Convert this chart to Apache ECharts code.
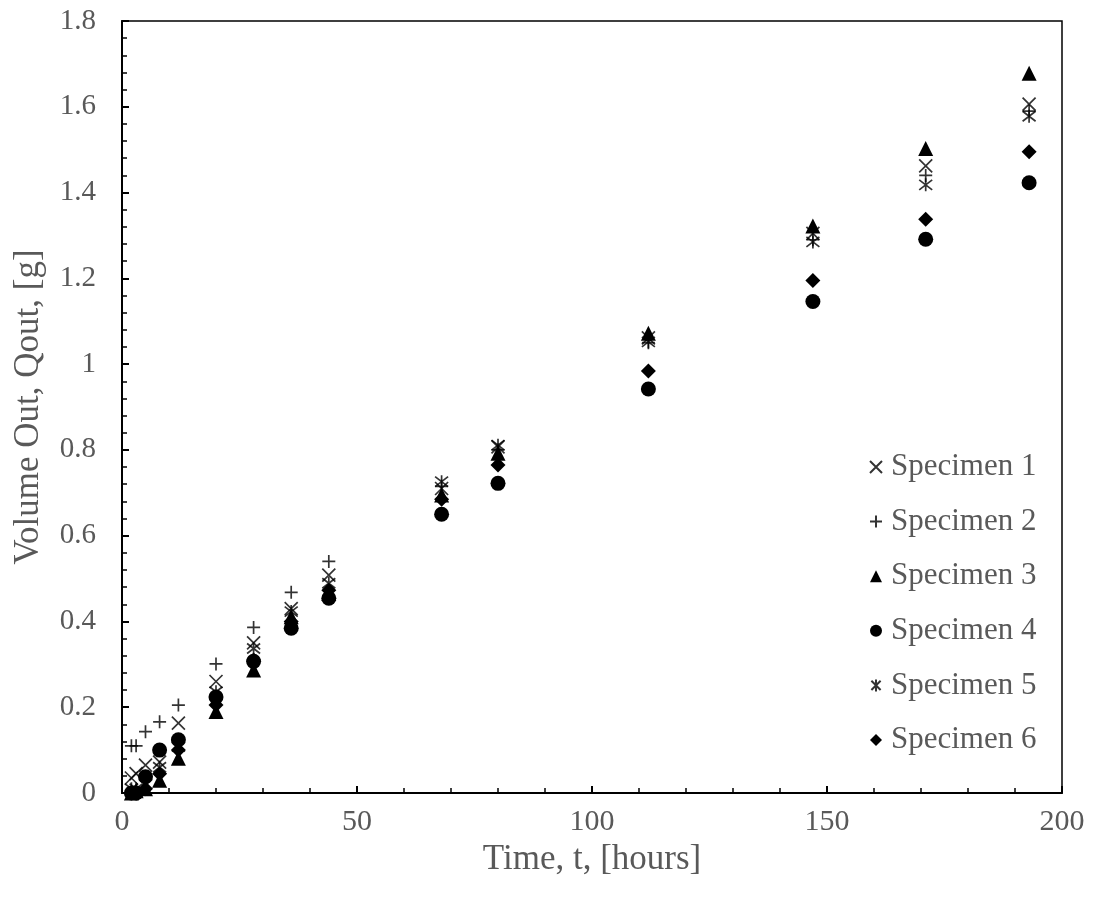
<!DOCTYPE html>
<html>
<head>
<meta charset="utf-8">
<script src="https://cdn.jsdelivr.net/npm/echarts@6/dist/echarts.min.js"></script>
<style>html,body{margin:0;padding:0;background:#fff;}#c{width:1094px;height:897px;}</style>
</head>
<body>
<div id="c"></div>
<script>
const times = [2, 3, 5, 8, 12, 20, 28, 36, 44, 68, 80, 112, 147, 171, 193];
const specimen1 = [0.035, 0.045, 0.065, 0.072, 0.163, 0.26, 0.35, 0.43, 0.508, 0.71, 0.807, 1.061, 1.305, 1.462, 1.606];
const specimen2 = [0.11, 0.11, 0.143, 0.166, 0.205, 0.301, 0.386, 0.468, 0.54, 0.715, 0.80, 1.05, 1.29, 1.44, 1.59];
const specimen3 = [0.0, 0.005, 0.01, 0.03, 0.081, 0.19, 0.287, 0.411, 0.465, 0.695, 0.792, 1.072, 1.322, 1.503, 1.678];
const specimen4 = [0.0, 0.0, 0.038, 0.10, 0.124, 0.224, 0.307, 0.384, 0.454, 0.65, 0.722, 0.942, 1.146, 1.291, 1.423];
const specimen5 = [0.01, 0.01, 0.02, 0.06, 0.108, 0.236, 0.337, 0.423, 0.489, 0.726, 0.811, 1.052, 1.285, 1.418, 1.578];
const specimen6 = [0.0, 0.0, 0.01, 0.045, 0.10, 0.205, 0.31, 0.40, 0.473, 0.685, 0.765, 0.984, 1.195, 1.338, 1.495];
const seriesNames = ['Specimen 1', 'Specimen 2', 'Specimen 3', 'Specimen 4', 'Specimen 5', 'Specimen 6'];
const seriesValues = [specimen1, specimen2, specimen3, specimen4, specimen5, specimen6];

const FONT = 'Liberation Serif';
const TXT = '#595959';
const symbols = [
  'path://M0,0L10,10M10,0L0,10',
  'path://M5,0L5,10M0,5L10,5',
  'triangle',
  'circle',
  'path://M0,0L10,10M10,0L0,10M5,-1.5L5,11.5',
  'diamond'
];
const sizes = [13, 13, 15, 15, 13, 15];
const stroked = [true, true, false, false, true, false];

const series = seriesNames.map((name, i) => ({
  name: name,
  type: 'scatter',
  symbol: symbols[i],
  symbolSize: sizes[i],
  data: times.map((t, j) => [t, seriesValues[i][j]]),
  itemStyle: stroked[i]
    ? { color: 'rgba(0,0,0,0)', borderColor: '#000', borderWidth: 1.7 }
    : { color: '#000', borderWidth: 0, opacity: 1 },
  emphasis: { disabled: true }
}));

const chart = echarts.init(document.getElementById('c'), null, { renderer: 'canvas' });
chart.setOption({
  animation: false,
  backgroundColor: '#fff',
  grid: {
    left: 122, right: 32, top: 21, bottom: 104,
    containLabel: false, outerBoundsMode: 'none',
    show: true, borderColor: '#000', borderWidth: 1.5, backgroundColor: 'rgba(0,0,0,0)'
  },
  legend: {
    orient: 'vertical',
    left: 864,
    top: 446,
    padding: 5,
    itemWidth: 12,
    itemHeight: 12,
    itemGap: 22.6,
    textStyle: { fontFamily: FONT, fontSize: 31, lineHeight: 32, color: TXT, padding: [0, 0, 0, 4] },
    data: seriesNames.map((n, i) => ({ name: n, icon: symbols[i] }))
  },
  xAxis: {
    type: 'value', min: 0, max: 200, interval: 50,
    name: 'Time, t, [hours]', nameLocation: 'middle', nameGap: 31,
    nameTextStyle: { fontFamily: FONT, fontSize: 35, color: TXT },
    axisLine: { lineStyle: { color: '#000', width: 2 } },
    axisTick: { inside: true, length: 7, lineStyle: { color: '#000', width: 2 } },
    minorTick: { show: true, splitNumber: 5, length: 5, lineStyle: { color: '#000', width: 1.5 } },
    axisLabel: { fontFamily: FONT, fontSize: 30, color: TXT, margin: 14 },
    splitLine: { show: false }
  },
  yAxis: {
    type: 'value', min: 0, max: 1.8, interval: 0.2,
    name: 'Volume Out, Qout, [g]', nameLocation: 'middle', nameGap: 76, nameRotate: 90,
    nameTextStyle: { fontFamily: FONT, fontSize: 35, color: TXT },
    axisLine: { lineStyle: { color: '#000', width: 2 } },
    axisTick: { inside: true, length: 7, lineStyle: { color: '#000', width: 2 } },
    minorTick: { show: true, splitNumber: 5, length: 5, lineStyle: { color: '#000', width: 1.5 } },
    axisLabel: { fontFamily: FONT, fontSize: 29, color: TXT, margin: 26 },
    splitLine: { show: false }
  },
  series: series
});
</script>
</body>
</html>
